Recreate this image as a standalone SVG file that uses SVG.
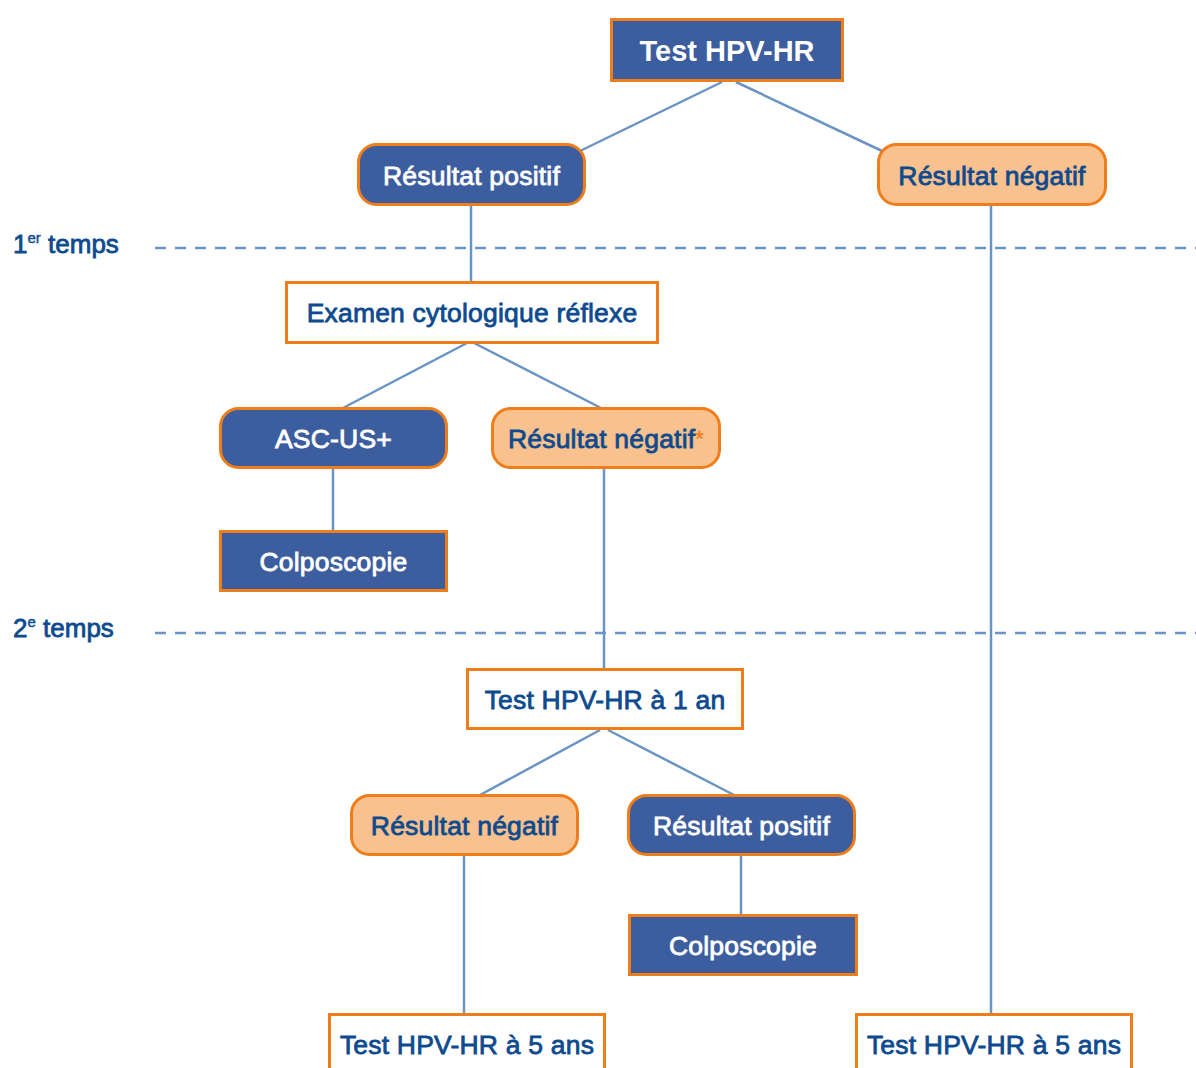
<svg xmlns="http://www.w3.org/2000/svg" width="1196" height="1068" viewBox="0 0 1196 1068">
<style>
.t{font-family:"Liberation Sans",Arial,Helvetica,sans-serif;font-size:26.5px;letter-spacing:0.2px;text-anchor:middle;stroke-width:0.8px;paint-order:stroke}
.w{fill:#ffffff;stroke:#ffffff}
.d{fill:#0d4a8e;stroke:#0d4a8e}
.blue{fill:#3d5e9e;stroke:#ef7d1a;stroke-width:3}
.peach{fill:#f8c18d;stroke:#ef7d1a;stroke-width:3}
.white{fill:#ffffff;stroke:#ef7d1a;stroke-width:3}
.c{stroke:#6a94c3;stroke-width:2.5;fill:none}
.dash{stroke:#6a94c3;stroke-width:2.5;stroke-dasharray:11 9;fill:none}
.lab{font-family:"Liberation Sans",Arial,Helvetica,sans-serif;font-size:26px;fill:#0d4a8e;stroke:#0d4a8e;stroke-width:0.8px}
</style>
<g id="separators">
<line class="dash" x1="155" y1="248" x2="1196" y2="248"/>
<line class="dash" x1="155" y1="633" x2="1196" y2="633"/>
<text class="lab" x="13" y="253">1<tspan font-size="15" stroke-width="0.4" dy="-10">er</tspan><tspan dy="10"> temps</tspan></text>
<text class="lab" x="13" y="637">2<tspan font-size="15" stroke-width="0.4" dy="-10">e</tspan><tspan dy="10"> temps</tspan></text>
</g>
<g id="connectors">
<line class="c" x1="722" y1="82" x2="580" y2="151"/>
<line class="c" x1="736" y1="82" x2="882" y2="151"/>
<line class="c" x1="471" y1="205" x2="471" y2="282"/>
<line class="c" x1="991" y1="205" x2="991" y2="1014"/>
<line class="c" x1="467" y1="343" x2="343" y2="408"/>
<line class="c" x1="474" y1="343" x2="601" y2="408"/>
<line class="c" x1="333" y1="468" x2="333" y2="531"/>
<line class="c" x1="604" y1="468" x2="604" y2="669"/>
<line class="c" x1="600" y1="730" x2="480" y2="795"/>
<line class="c" x1="608" y1="730" x2="734" y2="795"/>
<line class="c" x1="464" y1="855" x2="464" y2="1014"/>
<line class="c" x1="741" y1="855" x2="741" y2="915"/>
</g>
<g id="n-test">
<rect class="blue" x="611.5" y="19.5" width="231" height="61"/>
<text class="t w" x="727" y="61" font-weight="bold" style="font-size:29px;stroke-width:0;letter-spacing:0">Test HPV-HR</text>
</g>
<g id="n-pos1">
<rect class="blue" x="358.5" y="144.5" width="226" height="60" rx="18"/>
<text class="t w" x="471.5" y="185">Résultat positif</text>
</g>
<g id="n-neg1">
<rect class="peach" x="878.5" y="144.5" width="227" height="60" rx="18"/>
<text class="t d" x="992" y="185">Résultat négatif</text>
</g>
<g id="n-cyto">
<rect class="white" x="286.5" y="282.5" width="371" height="60"/>
<text class="t d" x="472" y="322">Examen cytologique réflexe</text>
</g>
<g id="n-ascus">
<rect class="blue" x="220.5" y="408.5" width="226" height="59" rx="18"/>
<text class="t w" x="333.5" y="448">ASC-US+</text>
</g>
<g id="n-neg2">
<rect class="peach" x="492.5" y="408.5" width="227" height="59" rx="18"/>
<text class="t d" x="606" y="448">Résultat négatif<tspan fill="#ef7d1a" stroke="#ef7d1a" stroke-width="0.3" font-size="22" dy="-2">*</tspan></text>
</g>
<g id="n-colpo1">
<rect class="blue" x="220.5" y="531.5" width="226" height="59"/>
<text class="t w" x="333.5" y="571">Colposcopie</text>
</g>
<g id="n-test1an">
<rect class="white" x="467.5" y="669.5" width="275" height="59"/>
<text class="t d" x="605" y="709">Test HPV-HR à 1 an</text>
</g>
<g id="n-neg3">
<rect class="peach" x="351.5" y="795.5" width="226" height="59" rx="18"/>
<text class="t d" x="464.5" y="835">Résultat négatif</text>
</g>
<g id="n-pos2">
<rect class="blue" x="628.5" y="795.5" width="226" height="59" rx="18"/>
<text class="t w" x="741.5" y="835">Résultat positif</text>
</g>
<g id="n-colpo2">
<rect class="blue" x="629.5" y="915.5" width="227" height="59"/>
<text class="t w" x="743" y="955">Colposcopie</text>
</g>
<g id="n-5ans-left">
<rect class="white" x="329.5" y="1014.5" width="275" height="70"/>
<text class="t d" x="467" y="1054">Test HPV-HR à 5 ans</text>
</g>
<g id="n-5ans-right">
<rect class="white" x="856.5" y="1014.5" width="275" height="70"/>
<text class="t d" x="994" y="1054">Test HPV-HR à 5 ans</text>
</g>
</svg>
